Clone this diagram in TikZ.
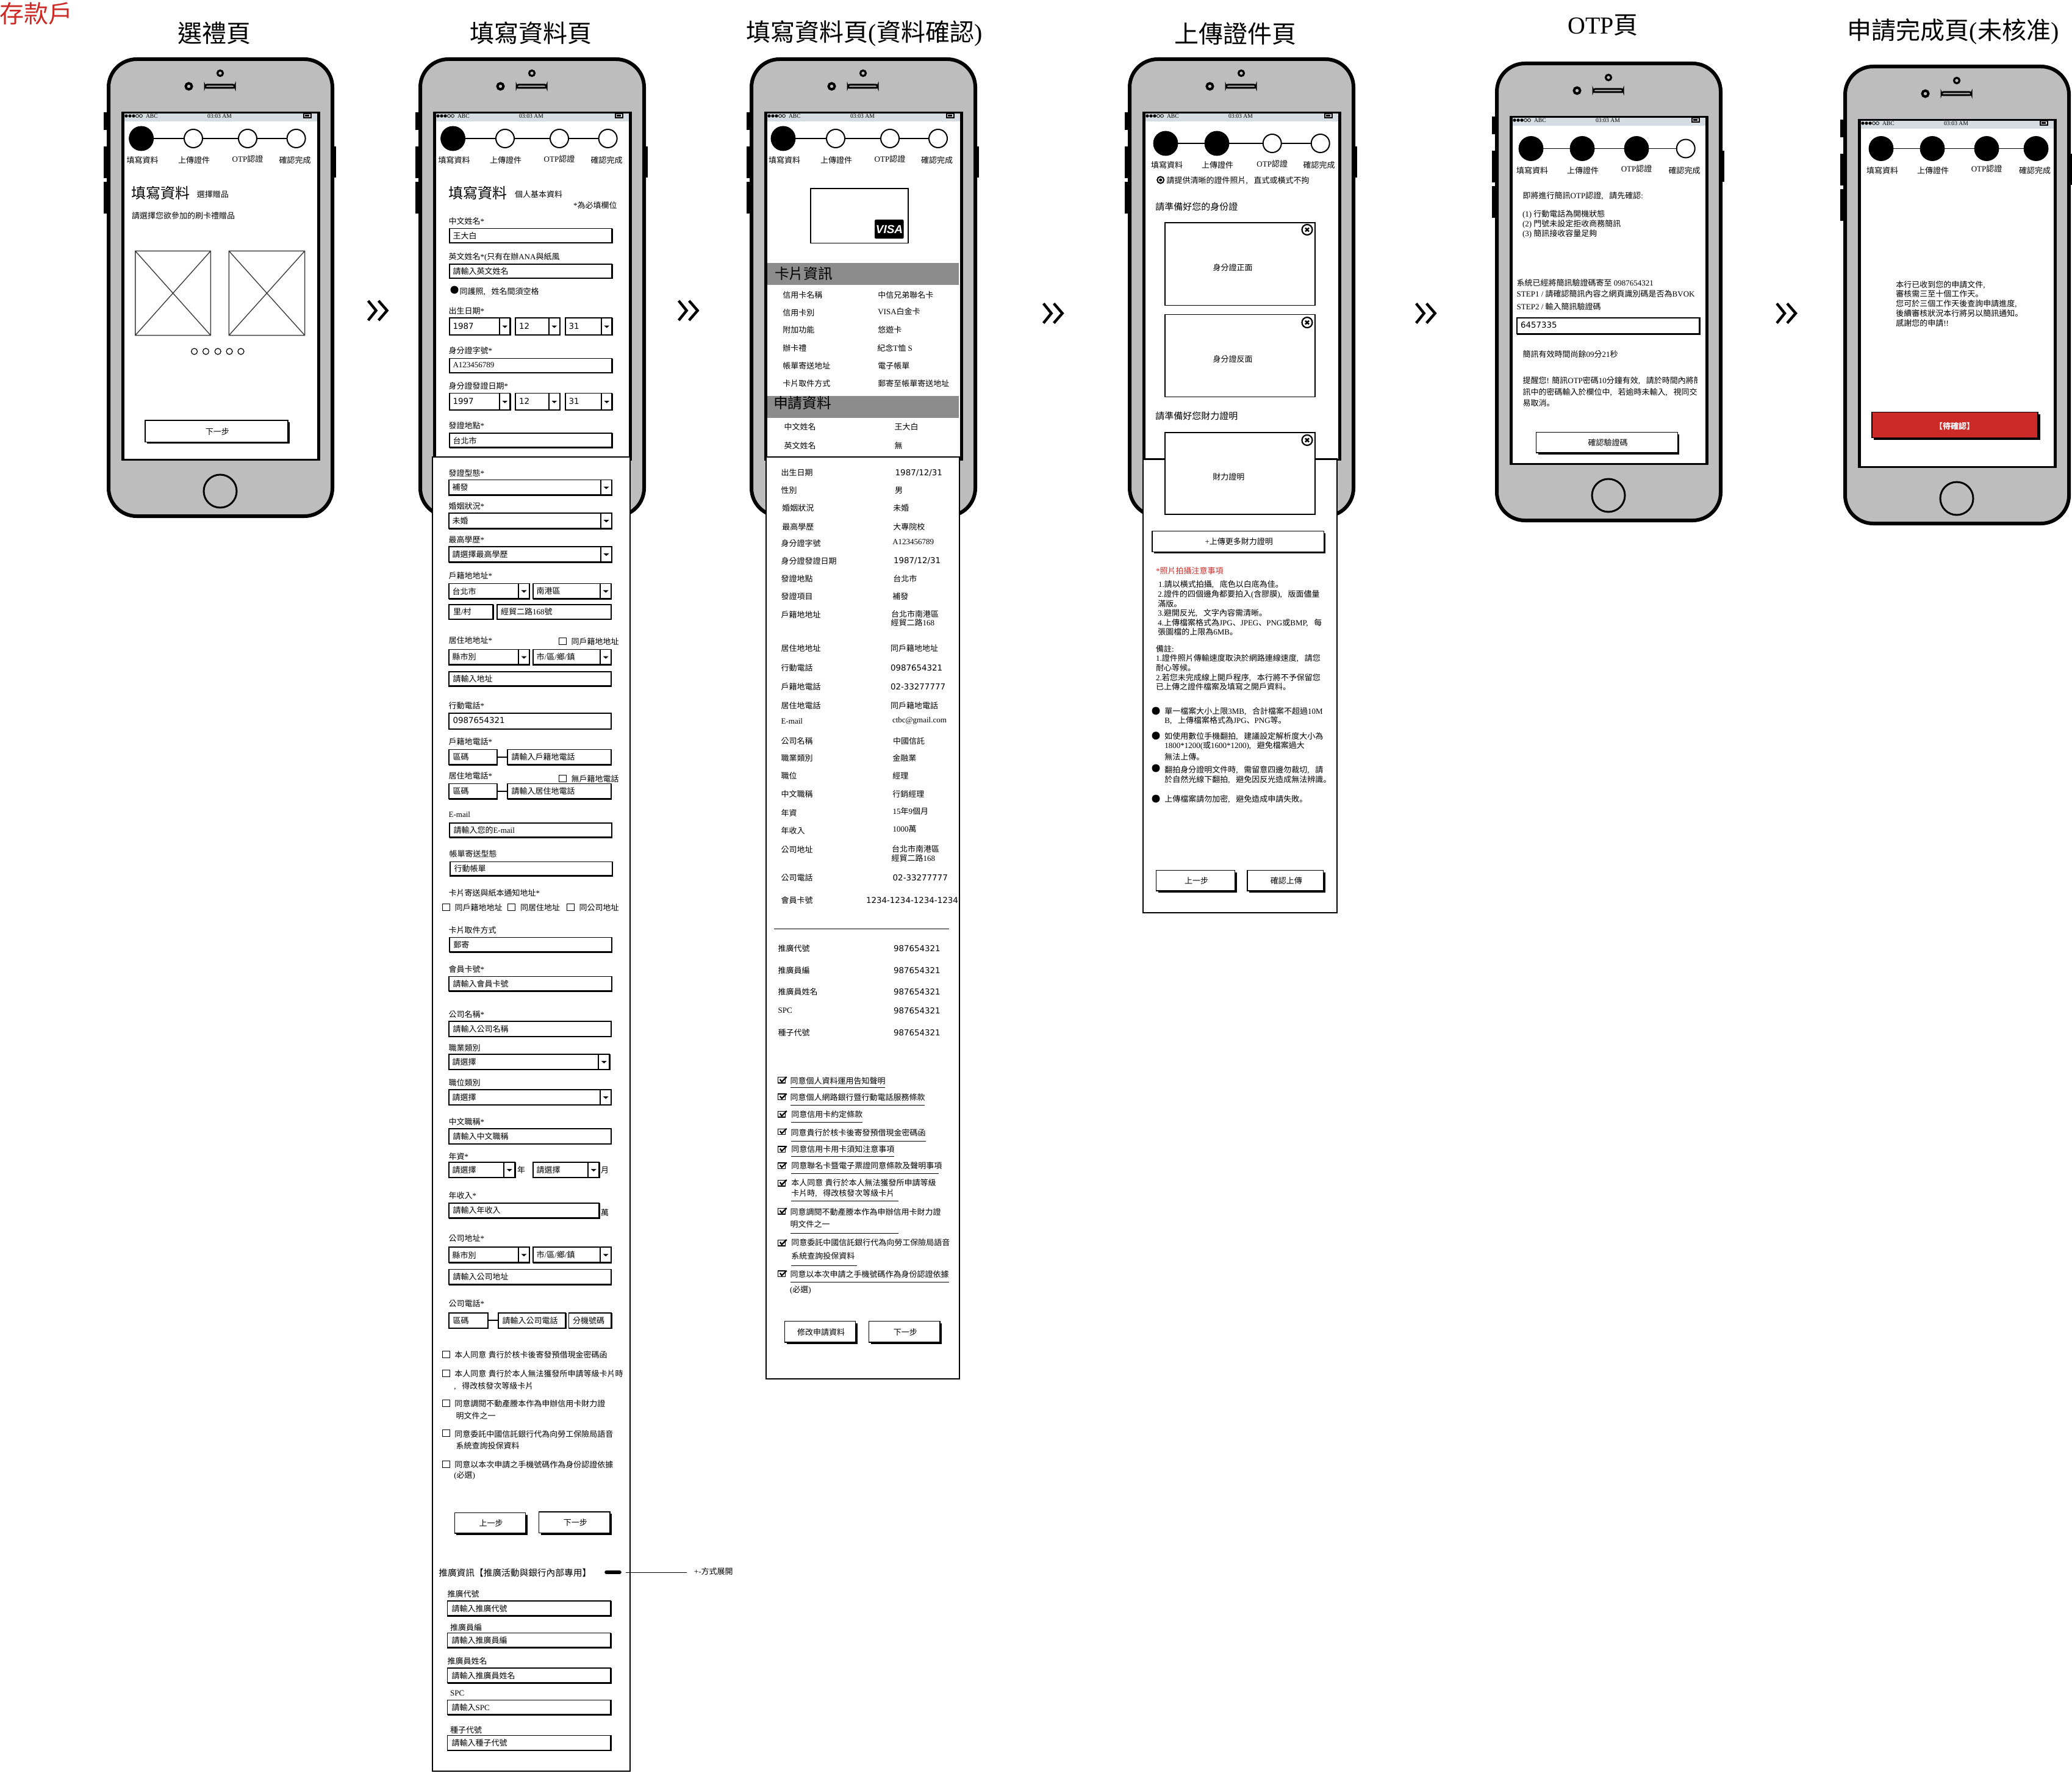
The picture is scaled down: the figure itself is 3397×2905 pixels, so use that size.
\documentclass[tikz,border=0pt]{standalone}
\usepackage{fontspec}
\setmainfont{Liberation Serif}
\newfontfamily\cjkf{Noto Sans CJK TC}
\newfontfamily\jpf{Noto Sans CJK JP}
\newfontfamily\widef{DejaVu Sans}
\newfontfamily\sansf{Liberation Sans}
\XeTeXinterchartokenstate=1
\chardef\cjkclass=7
\chardef\pctclass=8
\makeatletter
\count@="2E80
\loop\ifnum\count@<"A000 \XeTeXcharclass\count@=\cjkclass \advance\count@ 1 \repeat
\count@="FF00
\loop\ifnum\count@<"FFF0 \XeTeXcharclass\count@=\cjkclass \advance\count@ 1 \repeat
\makeatother
\XeTeXcharclass"3001=\pctclass
\XeTeXcharclass"3002=\pctclass
\XeTeXinterchartoks 0 \cjkclass={\cjkf}
\XeTeXinterchartoks 4095 \cjkclass={\cjkf}
\XeTeXinterchartoks \cjkclass 0={\rmfamily}
\XeTeXinterchartoks \cjkclass 4095={\rmfamily}
\XeTeXinterchartoks 0 \pctclass={\jpf}
\XeTeXinterchartoks 4095 \pctclass={\jpf}
\XeTeXinterchartoks \cjkclass \pctclass={\jpf}
\XeTeXinterchartoks \pctclass \cjkclass={\cjkf}
\XeTeXinterchartoks \pctclass 0={\rmfamily}
\XeTeXinterchartoks \pctclass 4095={\rmfamily}
\newcommand\cm{,\hspace{0.75em}}
\definecolor{bodygray}{HTML}{BDBDBD}
\definecolor{barcol}{HTML}{D6DDE2}
\definecolor{bandcol}{HTML}{8C8C8C}
\definecolor{redcol}{HTML}{CC2A27}
\tikzset{
 txt/.style={anchor=west,inner sep=0pt,outer sep=0pt,font=\fontsize{6.5}{7.5}\selectfont},
 txtc/.style={anchor=center,inner sep=0pt,outer sep=0pt,font=\fontsize{6.5}{7.5}\selectfont},
 dgt/.style={anchor=west,inner sep=0pt,outer sep=0pt,font=\fontsize{6.7}{7.5}\selectfont\widef},
 title/.style={anchor=center,inner sep=0pt,outer sep=0pt,font=\fontsize{20}{21}\selectfont},
 stepon/.style={circle,fill=black,draw=black,minimum size=20pt,inner sep=0pt,outer sep=0pt},
 stepoff/.style={circle,fill=white,draw=black,line width=1pt,minimum size=15pt,inner sep=0pt,outer sep=0pt},
 conn/.style={line width=0.8pt},
 fieldbox/.style={draw=black,fill=white,line width=0.8pt},
 fieldedge/.style={line width=1.4pt},
 panel/.style={draw=black,fill=white,line width=1.4pt},
}
\newcounter{nn}
\newcommand\tx[3]{\stepcounter{nn}\node[txt] (n\thenn) at (#1,#2) {#3};}
\newcommand\txs[4]{\stepcounter{nn}\node[txt,font=\fontsize{#1}{#1}\selectfont] (n\thenn) at (#2,#3) {#4};}
\newcommand\txc[3]{\stepcounter{nn}\node[txtc] (n\thenn) at (#1,#2) {#3};}
\newcommand\dg[3]{\stepcounter{nn}\node[dgt] (n\thenn) at (#1,#2) {#3};}
\newcommand\ttl[3]{\stepcounter{nn}\node[title] (n\thenn) at (#1,#2) {#3};}
\newcommand\fld[4]{\draw[fieldbox] (#1,#2) rectangle (#3,#4);\draw[fieldedge] (#3,#2) -- (#3,#4) -- (#1,#4);}
\newcommand\sel[5]{\fld{#1}{#2}{#3}{#4}\draw[line width=0.9pt] (#5,#2) -- (#5,#4);
 \fill ({(#5+#3)/2-4.5},{(#2+#4)/2-1.5}) -- ++(9,0) -- ++(-4.5,4) -- cycle;}
\newcommand\btn[5]{\fill ({#1+3},{#2+3}) rectangle (#3,#4);
 \draw[fill=white,line width=0.7pt] (#1,#2) rectangle ({#3-3},{#4-3});
 \txc{{(#1+#3)/2}}{{(#2+#4)/2-1}}{#5}}
\newcommand\cbx[2]{\draw[line width=0.7pt,fill=white] (#1,{#2-5.5}) rectangle ({#1+12},{#2+5.5});}
\newcommand\chkbox[2]{\draw[line width=0.7pt,fill=white] (#1,{#2-4.5}) rectangle ({#1+12},{#2+5});
 \draw[line width=1.1pt] ({#1+3},{#2-1}) -- ({#1+6},{#2+3}) -- ({#1+14},{#2-5});}
\newcommand\xicon[2]{\draw[line width=1.1pt,fill=white] (#1,#2) circle (8.5);
 \draw[line width=1.2pt] ({#1-3},{#2-3}) -- ({#1+3},{#2+3}) ({#1-3},{#2+3}) -- ({#1+3},{#2-3});}
\newcommand\chev[2]{\draw[line width=2.2pt] ({#1-16},{#2-16}) -- ({#1-3},#2) -- ({#1-16},{#2+16});
 \draw[line width=2.2pt] ({#1+1},{#2-16}) -- ({#1+15},#2) -- ({#1+1},{#2+16});}
\newcommand\blt[2]{\fill (#1,#2) circle (6.5);}
\newcommand\phonebody[2]{\begin{scope}[shift={(#1,#2)}]
 \fill (-5,90) rectangle (3,119); \fill (-5,146) rectangle (3,198); \fill (-5,204) rectangle (3,256); \fill (370,146) rectangle (376,197);
 \draw[fill=bodygray,line width=3pt,rounded corners=23pt] (3,3) rectangle (370,752);
 \draw[line width=1.6pt,fill=bodygray] (186,26) circle (4.5);
 \draw[line width=2pt,fill=bodygray] (134.5,47.5) circle (5);
 \draw[line width=1.5pt,fill=bodygray,rounded corners=1.5pt] (161,45) rectangle (210,50);
 \draw[line width=1.5pt,fill=bodygray] (186,711) circle (27);
 \fill (24,89) rectangle (350,661);
 \fill[white] (29,92) rectangle (345,658);
 \fill[barcol] (29,92) rectangle (345,105);
 \foreach \i in {0,1,2}{\fill (32+6*\i,96) circle (2.7);}
 \foreach \i in {3,4}{\draw[line width=0.4pt] (32+6*\i,96) circle (2.5);}
 \stepcounter{nn}\node[txt,font=\fontsize{4.8}{5}\selectfont] (n\thenn) at (64,96) {ABC};
 \stepcounter{nn}\node[txtc,font=\fontsize{4.8}{5}\selectfont] (n\thenn) at (185,96) {03:03 AM};
 \draw[line width=0.6pt] (323,92.5) rectangle (335,99);
 \fill (324.5,94) rectangle (332,97.5);
 \end{scope}}
\newcommand\stepbar[7]{%
 \ifnum#7>0 \node[stepon] (#1a) at (#2,#6) {};\else\node[stepoff] (#1a) at (#2,#6) {};\fi
 \ifnum#7>1 \node[stepon] (#1b) at (#3,#6) {};\else\node[stepoff] (#1b) at (#3,#6) {};\fi
 \ifnum#7>2 \node[stepon] (#1c) at (#4,#6) {};\else\node[stepoff] (#1c) at (#4,#6) {};\fi
 \ifnum#7>3 \node[stepon] (#1d) at (#5,#6) {};\else\node[stepoff] (#1d) at (#5,#6) {};\fi
 \draw[conn] (#1a) -- (#1b); \draw[conn] (#1b) -- (#1c); \draw[conn] (#1c) -- (#1d);
 \txc{{#2+2}}{{#6+36}}{填寫資料}
 \txc{{#3+1}}{{#6+36}}{上傳證件}
 \txc{{#4}}{{#6+33}}{OTP認證}
 \txc{{#5-2}}{{#6+36}}{確認完成}}
\begin{document}
\begin{tikzpicture}[x=0.5pt,y=-0.5pt]
\useasboundingbox (0,0) rectangle (3397,2905);
\fill[white] (0,0) rectangle (3397,2905);
% titles
\stepcounter{nn}\node[title,text=redcol] (n\thenn) at (59.5,22) {存款戶};
\ttl{351}{54}{選禮頁}
\ttl{870}{54}{填寫資料頁}
\ttl{1417}{55}{填寫資料頁(資料確認)}
\ttl{2025}{55}{上傳證件頁}
\ttl{2628}{41}{OTP頁}
\ttl{3202}{52}{申請完成頁(未核准)}
% chevrons
\chev{619.6}{509}
\chev{1128.7}{509}
\chev{1726.7}{513.5}
\chev{2337.7}{513.5}
\chev{2929}{513.5}
%%%%%%%% Phone 1
\phonebody{175}{94}
\stepbar{pa}{231.6}{317}{406}{485.6}{227}{1}
\txs{12}{215.4}{316.5}{填寫資料}
\tx{322.8}{319}{選擇贈品}
\tx{216}{353.8}{請選擇您欲參加的刷卡禮贈品}
\draw[line width=0.7pt,draw=black!75] (221.8,411.4) rectangle (345.3,549.6) (221.8,411.4) -- (345.3,549.6) (345.3,411.4) -- (221.8,549.6);
\draw[line width=0.7pt,draw=black!75] (375.4,411.4) rectangle (499.6,549.6) (375.4,411.4) -- (499.6,549.6) (499.6,411.4) -- (375.4,549.6);
\foreach \x in {318.6,337.5,357.2,376.1,395}{\draw[line width=0.6pt] (\x,576) circle (5);}
\btn{237.9}{689}{475}{727.4}{下一步}
%%%%%%%% Phone 2
\phonebody{686}{94}
\stepbar{pb}{742.6}{828}{917}{996.6}{227}{1}
\txs{12}{735.4}{316.5}{填寫資料}
\tx{844}{319}{個人基本資料}
\tx{940}{337}{*為必填欄位}
\tx{735.5}{363}{中文姓名*}
\fld{737}{374.6}{1003.5}{398}\tx{742.5}{387}{王大白}
\tx{735.5}{421}{英文姓名*(只有在辦ANA與紙風}
\fld{737}{433}{1003.5}{456}\tx{742.5}{445}{請輸入英文姓名}
\blt{745}{475}
\tx{753.7}{478}{同護照\cm 姓名間須空格}
\tx{735.5}{510}{出生日期*}
\sel{737}{521}{836.5}{549}{819}\sel{845}{521}{918}{549}{899.6}\sel{927}{521}{1003.5}{549}{986}
\dg{742.5}{534.5}{1987}\dg{851}{534.5}{12}\dg{932.6}{534.5}{31}
\tx{735.5}{575}{身分證字號*}
\fld{737}{587.5}{1003.5}{611}\tx{742.5}{598}{A123456789}
\tx{735.5}{633}{身分證發證日期*}
\sel{737}{644.5}{836.5}{672}{819}\sel{845}{644.5}{918}{672}{899.6}\sel{927}{644.5}{1003.5}{672}{986}
\dg{742.5}{657.5}{1997}\dg{851}{657.5}{12}\dg{932.6}{657.5}{31}
\tx{735.5}{698}{發證地點*}
\fld{737}{710}{1003.5}{733.4}\tx{742.5}{722}{台北市}
\draw[panel] (709,749) rectangle (1033,2903);
\tx{735.7}{775.4}{發證型態*}
\sel{735.7}{786.4}{1003}{811.8}{985}\tx{741.7}{799}{補發}
\tx{735.7}{830}{婚姻狀況*}
\sel{735.7}{841}{1003}{866.3}{985}\tx{741.7}{854}{未婚}
\tx{735.7}{885}{最高學歷*}
\sel{735.7}{896}{1003}{921.3}{985}\tx{741.7}{909}{請選擇最高學歷}
\tx{735.7}{943.8}{戶籍地地址*}
\sel{735.7}{956.3}{868}{981.6}{850}\sel{873.7}{956.3}{1002}{981.6}{984.3}
\tx{741.7}{969}{台北市}\tx{879.7}{969}{南港區}
\fld{735.7}{990.7}{808.3}{1015}\fld{814.7}{990.7}{1002}{1015}
\tx{743}{1002.7}{里/村}\tx{821}{1002.7}{經貿二路168號}
\tx{735.7}{1050}{居住地地址*}
\cbx{916.7}{1051}\tx{936.7}{1052}{同戶籍地地址}
\sel{735.7}{1064.4}{868}{1089.8}{850}\sel{873.7}{1064.4}{1002}{1089.8}{984.3}
\tx{741.7}{1077}{縣市別}\tx{879.7}{1077}{市/區/鄉/鎮}
\fld{735.7}{1100.8}{1002}{1124.7}\tx{742.5}{1112.7}{請輸入地址}
\tx{735.7}{1156.7}{行動電話*}
\fld{735.7}{1169}{1002}{1195}\dg{742.5}{1181}{0987654321}
\tx{735.7}{1216}{戶籍地電話*}
\fld{735.7}{1228.5}{815}{1253.4}\fld{831.7}{1228.5}{1002}{1253.4}
\coordinate (tela) at (815,1241);\coordinate (telb) at (831.7,1241);\draw[line width=1pt] (tela) -- (telb);
\tx{742.5}{1241}{區碼}\tx{838.5}{1241}{請輸入戶籍地電話}
\tx{735.7}{1272}{居住地電話*}
\cbx{916.7}{1276}\fld{735.7}{1284.5}{815}{1309.4}\fld{831.7}{1284.5}{1002}{1309.4}
\coordinate (telc) at (815,1297);\coordinate (teld) at (831.7,1297);\draw[line width=1pt] (telc) -- (teld);
\tx{936.7}{1277}{無戶籍地電話}
\tx{742.5}{1297}{區碼}\tx{838.5}{1297}{請輸入居住地電話}
\tx{735.7}{1334.7}{E-mail}
\fld{736.7}{1349}{1003}{1372.5}\tx{743.5}{1361}{請輸入您的E-mail}
\tx{736.7}{1399.3}{帳單寄送型態}
\fld{737.7}{1412.3}{1004}{1435.7}\tx{744.5}{1424}{行動帳單}
\tx{735.7}{1464}{卡片寄送與紙本通知地址*}
\cbx{725.7}{1487}\tx{745.7}{1487.7}{同戶籍地地址}
\cbx{832.7}{1487}\tx{853}{1487.7}{同居住地址}
\cbx{929.7}{1487}\tx{949.7}{1487.7}{同公司地址}
\tx{735.7}{1525}{卡片取件方式}
\fld{736.7}{1536.5}{1003}{1560.4}\tx{743.3}{1548.4}{郵寄}
\tx{735.7}{1588.6}{會員卡號*}
\fld{735.7}{1600.6}{1003}{1624.5}\tx{742.5}{1613}{請輸入會員卡號}
\tx{735.7}{1662.8}{公司名稱*}
\fld{735.7}{1674}{1002}{1699}\tx{742.5}{1686.5}{請輸入公司名稱}
\tx{735.7}{1717.8}{職業類別}
\sel{735.7}{1727.8}{999.3}{1753}{981.3}\tx{741.7}{1740.5}{請選擇}
\tx{735.7}{1774.7}{職位類別}
\sel{735.7}{1786}{1002}{1811}{984.3}\tx{741.7}{1798.5}{請選擇}
\tx{735.7}{1838.9}{中文職稱*}
\fld{735.7}{1850}{1002}{1875}\tx{742.5}{1862.5}{請輸入中文職稱}
\tx{735.7}{1895.8}{年資*}
\sel{735.7}{1905}{844.3}{1930}{826.3}\sel{873.7}{1905}{982.3}{1930}{964.3}
\tx{741.7}{1917.8}{請選擇}\tx{848}{1917.8}{年}\tx{879.7}{1917.8}{請選擇}\tx{985}{1917.8}{月}
\tx{735.7}{1960}{年收入*}
\fld{735.7}{1971.9}{982.3}{1996.3}\tx{742.5}{1984}{請輸入年收入}\tx{985}{1988}{萬}
\tx{735.7}{2029.8}{公司地址*}
\sel{735.7}{2044}{868}{2069.5}{850}\sel{873.7}{2044}{1002}{2069.5}{984.3}
\tx{741.7}{2057}{縣市別}\tx{879.7}{2057}{市/區/鄉/鎮}
\fld{735.7}{2080.5}{1002}{2105.4}\tx{742.5}{2093}{請輸入公司地址}
\tx{735.7}{2136.5}{公司電話*}
\fld{735.7}{2152}{800}{2177}\fld{816.7}{2152}{927.3}{2177}\fld{932.3}{2152}{1002.3}{2177}
\coordinate (tele) at (800,2163.7);\coordinate (telf) at (816.7,2163.7);\draw[line width=1pt] (tele) -- (telf);
\tx{742.5}{2164.5}{區碼}\tx{823.5}{2164.5}{請輸入公司電話}\tx{939}{2164.5}{分機號碼}
\cbx{725.7}{2220}\tx{745.4}{2221}{本人同意 貴行於核卡後寄發預借現金密碼函}
\cbx{725.7}{2251}\tx{745.4}{2252}{本人同意 貴行於本人無法獲發所申請等級卡片時}
\tx{744.3}{2272}{\cm 得改核發次等級卡片}
\cbx{725.7}{2300}\tx{745.4}{2300.8}{同意調閱不動產謄本作為申辦信用卡財力證}
\tx{747.5}{2320.9}{明文件之一}
\cbx{725.7}{2349}\tx{745.4}{2350}{同意委託中國信託銀行代為向勞工保險局語音}
\tx{747.5}{2370}{系統查詢投保資料}
\cbx{725.7}{2400}\tx{745.4}{2401}{同意以本次申請之手機號碼作為身份認證依據}
\tx{744.3}{2418}{(必選)}
\btn{745.4}{2479.6}{864.6}{2516}{上一步}
\btn{883.6}{2478}{1003}{2515.6}{下一步}
\txs{7.35}{719.3}{2578}{推廣資訊【推廣活動與銀行內部專用】}
\draw[line width=2.8pt,line cap=round] (994,2577) -- (1016,2577);
\coordinate (nta) at (1026.4,2577);\coordinate (ntb) at (1126.4,2577);\draw[line width=0.5pt] (nta) -- (ntb);
\tx{1137.9}{2576}{+-方式展開}
\tx{733.6}{2612.7}{推廣代號}
\fld{733.6}{2624}{1001.4}{2648.7}\tx{740.7}{2637}{請輸入推廣代號}
\tx{738.2}{2667.9}{推廣員編}
\fld{733.6}{2676.5}{1001.4}{2700.7}\tx{740.7}{2688.9}{請輸入推廣員編}
\tx{733.6}{2722.6}{推廣員姓名}
\fld{733.6}{2734}{1001.4}{2758.6}\tx{740.7}{2746.8}{請輸入推廣員姓名}
\tx{738.2}{2775.5}{SPC}
\fld{733.6}{2786.4}{1001.4}{2810.6}\tx{740.7}{2799}{請輸入SPC}
\tx{738.2}{2835.7}{種子代號}
\fld{733.6}{2844.4}{1001.4}{2869}\tx{740.7}{2857}{請輸入種子代號}
%%%%%%%% Phone 3
\phonebody{1229}{94}
\stepbar{pc}{1284}{1370}{1459}{1538}{227}{1}
\draw[line width=0.9pt,fill=white] (1328.7,309) rectangle (1489,398.5);
\fill[rounded corners=1pt] (1434,360) rectangle (1481.7,391);
\stepcounter{nn}\node[txtc,text=white,font=\fontsize{9.5}{9.5}\sansf\bfseries\itshape] (n\thenn) at (1458,375.5) {VISA};
\fill[bandcol] (1258.3,431) rectangle (1572.3,467.3);
\txs{11.9}{1270}{448}{卡片資訊}
\tx{1283.3}{483.7}{信用卡名稱}\tx{1439.3}{483.7}{中信兄弟聯名卡}
\tx{1283.3}{512.8}{信用卡別}\tx{1439.3}{510}{VISA白金卡}
\tx{1283.3}{540.8}{附加功能}\tx{1439.3}{540.8}{悠遊卡}
\tx{1283.3}{570.4}{辦卡禮}\tx{1438.3}{570.4}{紀念T恤 S}
\tx{1283.3}{599.5}{帳單寄送地址}\tx{1439.3}{599.5}{電子帳單}
\tx{1283.3}{628.6}{卡片取件方式}\tx{1439.3}{628.6}{郵寄至帳單寄送地址}
\fill[bandcol] (1258.3,648.5) rectangle (1572.3,684.7);
\txs{11.9}{1268}{660.7}{申請資料}
\tx{1285.7}{700}{中文姓名}\tx{1466.7}{700}{王大白}
\tx{1285.7}{730.6}{英文姓名}\tx{1466.7}{730.6}{無}
\draw[panel] (1256,749) rectangle (1573,2260);
\tx{1280.7}{774.8}{出生日期}\dg{1467.7}{774.8}{1987/12/31}
\tx{1280.7}{804}{性別}\tx{1467}{804}{男}
\tx{1282.3}{833}{婚姻狀況}\tx{1464.3}{833}{未婚}
\tx{1282.3}{863.4}{最高學歷}\tx{1464.3}{863.4}{大專院校}
\tx{1280.7}{890.7}{身分證字號}\tx{1463.3}{888}{A123456789}
\tx{1280.7}{919.6}{身分證發證日期}\dg{1465}{919.6}{1987/12/31}
\tx{1280.7}{948.5}{發證地點}\tx{1464.3}{948.5}{台北市}
\tx{1280.7}{977.8}{發證項目}\tx{1463.3}{977.8}{補發}
\tx{1280.7}{1008}{戶籍地地址}\tx{1461}{1006}{台北市南港區}\tx{1460.5}{1021}{經貿二路168}
\tx{1280.7}{1062.9}{居住地地址}\tx{1460}{1062.9}{同戶籍地地址}
\tx{1280.7}{1094.7}{行動電話}\dg{1460}{1094.7}{0987654321}
\tx{1280.7}{1125.6}{戶籍地電話}\dg{1460}{1125.6}{02-33277777}
\tx{1280.7}{1156.4}{居住地電話}\tx{1460}{1156.4}{同戶籍地電話}
\tx{1280.7}{1181.8}{E-mail}\tx{1463}{1181.8}{ctbc@gmail.com}
\tx{1280.7}{1214.6}{公司名稱}\tx{1464}{1214.6}{中國信託}
\tx{1280.7}{1242.5}{職業類別}\tx{1463.3}{1242.5}{金融業}
\tx{1280.7}{1271.8}{職位}\tx{1463.3}{1271.8}{經理}
\tx{1280.7}{1301.7}{中文職稱}\tx{1463.3}{1301.7}{行銷經理}
\tx{1280.7}{1332.5}{年資}\tx{1463.7}{1330}{15年9個月}
\tx{1280.7}{1361.4}{年收入}\tx{1463.7}{1358.9}{1000萬}
\tx{1280.7}{1392.7}{公司地址}\tx{1462}{1391.7}{台北市南港區}\tx{1461.5}{1406.7}{經貿二路168}
\tx{1280.7}{1438.5}{公司電話}\dg{1463.7}{1438.5}{02-33277777}
\tx{1280.7}{1475.8}{會員卡號}\dg{1420}{1475.8}{1234-1234-1234-1234}
\draw[line width=0.7pt] (1269,1522.4) -- (1555.7,1522.4);
\tx{1275.7}{1554.7}{推廣代號}\dg{1465}{1554.7}{987654321}
\tx{1275.7}{1590.5}{推廣員編}\dg{1465}{1590.5}{987654321}
\tx{1275.7}{1625.4}{推廣員姓名}\dg{1465}{1625.4}{987654321}
\tx{1275.7}{1656.2}{SPC}\dg{1465}{1656.2}{987654321}
\tx{1275.7}{1692.5}{種子代號}\dg{1465}{1692.5}{987654321}
\chkbox{1275.7}{1770}\tx{1295.7}{1772}{同意個人資料運用告知聲明}\draw[line width=0.5pt] (1295.7,1782.6) -- (1450.7,1782.6);
\chkbox{1275.7}{1797.5}\tx{1295.7}{1799}{同意個人網路銀行暨行動電話服務條款}\draw[line width=0.5pt] (1295.7,1811) -- (1516,1811);
\chkbox{1275.7}{1825.9}\tx{1297.3}{1826.9}{同意信用卡約定條款}\draw[line width=0.5pt] (1297,1839.8) -- (1414.3,1839.8);
\chkbox{1275.7}{1854.7}\tx{1296.7}{1856.2}{同意貴行於核卡後寄發預借現金密碼函}\draw[line width=0.5pt] (1297,1870) -- (1517.7,1870);
\chkbox{1275.7}{1883.6}\tx{1297.3}{1883.6}{同意信用卡用卡須知注意事項}\draw[line width=0.5pt] (1297,1895.5) -- (1465.7,1895.5);
\chkbox{1275.7}{1910.4}\tx{1297.3}{1911}{同意聯名卡暨電子票證同意條款及聲明事項}\draw[line width=0.5pt] (1297,1923) -- (1538.7,1923);
\chkbox{1275.7}{1938.8}\tx{1297.3}{1938.8}{本人同意 貴行於本人無法獲發所申請等級}\tx{1297.3}{1956.2}{卡片時\cm 得改核發次等級卡片}\draw[line width=0.5pt] (1297,1968.7) -- (1472.7,1968.7);
\chkbox{1275.7}{1985}\tx{1295.7}{1986.6}{同意調閱不動產謄本作為申辦信用卡財力證}\tx{1295.7}{2006.5}{明文件之一}\draw[line width=0.5pt] (1295.7,2021) -- (1472.7,2021);
\chkbox{1275.7}{2036.8}\tx{1297.3}{2036.8}{同意委託中國信託銀行代為向勞工保險局語音}\tx{1297.3}{2058.7}{系統查詢投保資料}\draw[line width=0.5pt] (1297,2074.6) -- (1405,2074.6);
\chkbox{1275.7}{2087.6}\tx{1295.7}{2088.6}{同意以本次申請之手機號碼作為身份認證依據}\draw[line width=0.5pt] (1295.7,2101) -- (1555.7,2101);
\tx{1295}{2114.4}{(必選)}
\btn{1286.7}{2165.7}{1405.7}{2203}{修改申請資料}
\btn{1424.7}{2165.7}{1544}{2203}{下一步}
%%%%%%%% Phone 4
\phonebody{1849}{94}
\draw[panel] (1874,752.5) rectangle (2192,1496);
\stepbar{pd}{1911}{1995}{2085.7}{2164.7}{235}{2}
\draw[line width=1pt] (1902.7,295) circle (5.5);
\fill (1902.7,295) circle (2.5);
\tx{1912.7}{296}{請提供清晰的證件照片\cm 直式或橫式不拘}
\txs{7.5}{1894.3}{338.8}{請準備好您的身份證}
\draw[line width=0.8pt,fill=white] (1909.7,365.3) rectangle (2155.7,500.5);
\xicon{2143}{376.5}\txc{2021}{438.8}{身分證正面}
\draw[line width=0.8pt,fill=white] (1909.7,515.3) rectangle (2155.7,650.5);
\xicon{2143}{528.6}\txc{2021}{588.8}{身分證反面}
\txs{7.5}{1894.3}{681.6}{請準備好您財力證明}
\draw[line width=0.8pt,fill=white] (1909.7,708.7) rectangle (2155.7,842.8);
\xicon{2143}{721.4}\txc{2014.3}{781.6}{財力證明}
\btn{1889}{870.6}{2173.3}{907.4}{+上傳更多財力證明}
\stepcounter{nn}\node[txt,text=redcol] (n\thenn) at (1895,935.7) {*照片拍攝注意事項};
\tx{1899}{957.9}{1.請以橫式拍攝\cm 底色以白底為佳。}
\tx{1898.3}{974}{2.證件的四個邊角都要拍入(含膠膜)\cm 版面儘量}
\tx{1898.3}{990}{滿版。}
\tx{1898.3}{1005}{3.避開反光\cm 文字內容需清晰。}
\tx{1898.3}{1021}{4.上傳檔案格式為JPG、JPEG、PNG或BMP\cm 每}
\tx{1898.3}{1036}{張圖檔的上限為6MB。}
\tx{1895}{1063.6}{備註:}
\tx{1895}{1078.7}{1.證件照片傳輸速度取決於網路連線速度\cm 請您}
\tx{1895}{1094.8}{耐心等候。}
\tx{1895}{1110.8}{2.若您未完成線上開戶程序\cm 本行將不予保留您}
\tx{1895}{1125.9}{已上傳之證件檔案及填寫之開戶資料。}
\blt{1895}{1165}\tx{1909.3}{1166}{單一檔案大小上限3MB\cm 合計檔案不超過10M}
\tx{1909.3}{1181}{B\cm 上傳檔案格式為JPG、PNG等。}
\blt{1895}{1205.7}\tx{1909.3}{1206.6}{如使用數位手機翻拍\cm 建議設定解析度大小為}
\tx{1909.3}{1222}{1800*1200(或1600*1200)\cm 避免檔案過大}
\tx{1909.3}{1240.6}{無法上傳。}
\blt{1895}{1259}\tx{1909.3}{1261.8}{翻拍身分證明文件時\cm 需留意四邊勿裁切\cm 請}
\tx{1909.3}{1277.9}{於自然光線下翻拍\cm 避免因反光造成無法辨識。}
\blt{1895}{1309}\tx{1909.3}{1310}{上傳檔案請勿加密\cm 避免造成申請失敗。}
\btn{1895.7}{1426.5}{2027.7}{1462.9}{上一步}
\btn{2045}{1426.5}{2172.7}{1462.9}{確認上傳}
%%%%%%%% Phone 5
\phonebody{2451}{101}
\stepbar{pe}{2510}{2594}{2683}{2763.7}{243.5}{3}
\tx{2496.7}{320.9}{即將進行簡訊OTP認證\cm 請先確認:}
\tx{2496}{351.6}{(1) 行動電話為開機狀態}
\tx{2496}{367.5}{(2) 門號未設定拒收商務簡訊}
\tx{2496}{382.9}{(3) 簡訊接收容量足夠}
\tx{2486.7}{464}{系統已經將簡訊驗證碼寄至 0987654321}
\tx{2486.7}{482}{STEP1 / 請確認簡訊內容之網頁識別碼是否為BVOK}
\tx{2486.7}{503}{STEP2 / 輸入簡訊驗證碼}
\fld{2486.7}{521}{2786.7}{547.4}\dg{2493}{533}{6457335}
\tx{2496.7}{581}{簡訊有效時間尚餘09分21秒}
\begin{scope}
\clip (2490,610) rectangle (2782,636);
\tx{2496.7}{624}{提醒您! 簡訊OTP密碼10分鐘有效\cm 請於時間內將簡}
\end{scope}
\tx{2496.7}{643}{訊中的密碼輸入於欄位中\cm 若逾時未輸入\cm 視同交}
\tx{2496.7}{661}{易取消。}
\btn{2518.7}{708.7}{2753.3}{745}{確認驗證碼}
%%%%%%%% Phone 6
\phonebody{3022}{106}
\stepbar{pf}{3084}{3168}{3257}{3338}{243.5}{4}
\tx{3108.3}{466.8}{本行已收到您的申請文件,}
\tx{3108.3}{482}{審核需三至十個工作天。}
\tx{3108.3}{498}{您可於三個工作天後查詢申請進度,}
\tx{3108.3}{514}{後續審核狀況本行將另以簡訊通知。}
\tx{3108.3}{529.3}{感謝您的申請!!}
\fill ({3069+3},{675.8+3}) rectangle (3345,720.8);
\draw[fill=redcol,line width=0.6pt] (3069,675.8) rectangle (3341,717.8);
\stepcounter{nn}\node[txtc,text=white,font=\fontsize{6.5}{7.5}\selectfont\bfseries] (n\thenn) at (3204.7,698.8) {【待確認】};
\end{tikzpicture}
\end{document}
